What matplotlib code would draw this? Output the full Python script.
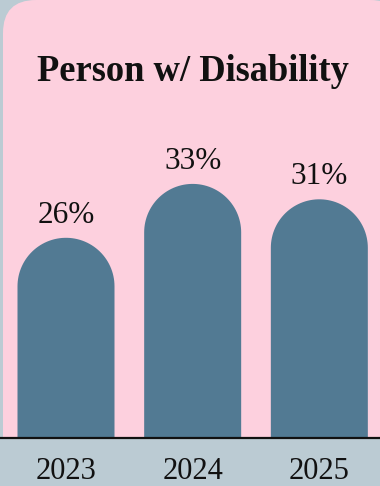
import matplotlib
matplotlib.use("Agg")
import numpy as np
import matplotlib.pyplot as plt
from matplotlib.patches import FancyBboxPatch, PathPatch
from matplotlib.path import Path

years = ["2023", "2024", "2025"]
values = [26, 33, 31]
title = "Person w/ Disability"

BG = "#bbcbd3"
PINK = "#fdd0de"
BAR = "#527a93"
FONT = ["Liberation Serif", "DejaVu Serif"]

W, H, DPI = 380, 486, 100
fig = plt.figure(figsize=(W / DPI, H / DPI), dpi=DPI, facecolor=BG)

base_px = 48  # baseline height from bottom in pixels
ax = fig.add_axes([0, base_px / H, 1, 1 - base_px / H])
ax.set_facecolor("none")
px_per_unit_y = 7.7
px_per_unit_x = 126.67
ax.set_ylim(0, (H - base_px) / px_per_unit_y)
x0 = -66 / px_per_unit_x
ax.set_xlim(x0, x0 + W / px_per_unit_x)
for s in ax.spines.values():
    s.set_visible(False)
ax.set_xticks([])
ax.set_yticks([])

# pink rounded panel (display coords)
panel = FancyBboxPatch((3, -40), 400, H + 40,
                       boxstyle="round,pad=0,rounding_size=33",
                       facecolor=PINK, edgecolor="none",
                       transform=None, zorder=0)
ax.add_patch(panel)
panel.set_clip_box(ax.bbox)

bw = 97 / px_per_unit_x
rx = bw / 2
ry = rx * px_per_unit_x / px_per_unit_y
xs = list(range(len(years)))
theta = np.linspace(np.pi, 0, 60)
for x, v in zip(xs, values):
    cy = v - ry
    verts = [(x - rx, 0)]
    verts += [(x + rx * np.cos(t), cy + ry * np.sin(t)) for t in theta]
    verts += [(x + rx, 0), (x - rx, 0)]
    codes = [Path.MOVETO] + [Path.LINETO] * (len(verts) - 2) + [Path.CLOSEPOLY]
    ax.add_patch(PathPatch(Path(verts, codes), facecolor=BAR,
                           edgecolor="none", zorder=2))
    ax.annotate(f"{v}%", (x, v), xytext=(0, 15), textcoords="offset pixels",
                ha="center", va="baseline", fontsize=22.5, family=FONT,
                color="#111111", zorder=3)

ax.axhline(0, color="#111111", lw=1.6, zorder=4, clip_on=False)

for x, y in zip(xs, years):
    ax.annotate(y, (x, 0), xytext=(0, -41), textcoords="offset pixels",
                ha="center", va="baseline", fontsize=22, family=FONT,
                color="#111111", annotation_clip=False)

fig.text(193 / W, 1 - 81 / H, title, ha="center", va="baseline",
         fontsize=26.3, fontweight="bold", family=FONT, color="#111111")

fig.savefig("out.png", dpi=DPI, facecolor=BG)
